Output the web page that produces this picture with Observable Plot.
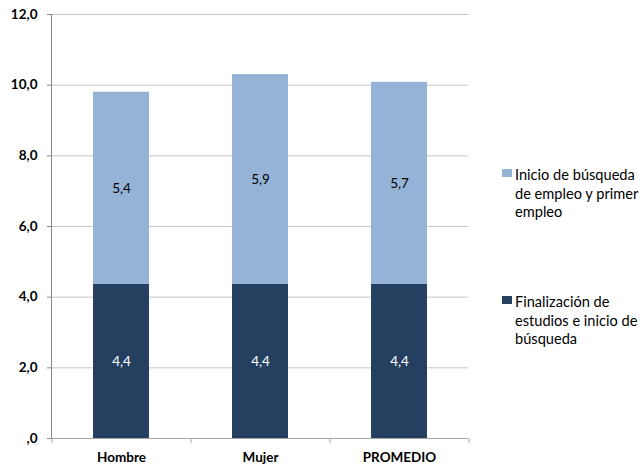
<!DOCTYPE html>
<html><head><meta charset="utf-8">
<script src="https://cdn.jsdelivr.net/npm/d3@7"></script>
<script src="https://cdn.jsdelivr.net/npm/@observablehq/plot@0.6"></script>
<style>
body{margin:0;background:#fff;font-family:Lato,sans-serif;}
#wrap{position:relative;width:643px;height:470px;}
.leg{position:absolute;left:502px;font-size:14.6px;line-height:18.5px;color:#000;}
.sw{position:absolute;left:0;top:3px;width:10px;height:8px;}
.lt{margin-left:13px;white-space:nowrap;}
</style></head><body><div id="wrap"></div>
<script>
const categories = ["Hombre", "Mujer", "PROMEDIO"];
const seriesNames = ["Finalización de estudios e inicio de búsqueda", "Inicio de búsqueda de empleo y primer empleo"];
const finalizacion = [4.36, 4.36, 4.36];
const inicio = [5.44, 5.94, 5.72];
const seriesColors = ["#243F60", "#95B3D7"];
const yTicks = [0, 2, 4, 6, 8, 10, 12];
const legendItems = [
  {lines: ["Inicio de búsqueda", "de empleo y primer", "empleo"], color: "#95B3D7", top: 166},
  {lines: ["Finalización de", "estudios e inicio de", "búsqueda"], color: "#243F60", top: 293}
];

const data = [];
categories.forEach((c, i) => {
  data.push({cat: c, serie: seriesNames[0], value: finalizacion[i]});
  data.push({cat: c, serie: seriesNames[1], value: inicio[i]});
});

const W = 643, H = 470, mL = 51, mR = 175, mT = 14, mB = 32;
const step = (W - mL - mR) / categories.length;
const pxPerUnit = (H - mT - mB) / 12;
const fmt = v => v === 0 ? ",0" : v.toFixed(1).replace(".", ",");

const chart = Plot.plot({
  width: W, height: H,
  marginLeft: mL, marginRight: mR, marginTop: mT, marginBottom: mB,
  style: {fontFamily: "Lato, sans-serif", fontSize: "13px", background: "#fff", color: "#000"},
  x: {domain: categories, paddingInner: 0.6, paddingOuter: 0.3, label: null},
  y: {domain: [0, 12], label: null},
  color: {domain: seriesNames, range: seriesColors},
  marks: [
    Plot.gridY(yTicks, {stroke: "#c6c6c6", strokeOpacity: 1}),
    Plot.frame({anchor: "left", stroke: "#868686"}),
    Plot.axisY({ticks: yTicks, tickSize: 4, tickPadding: 10, tickFormat: fmt, stroke: "#868686", fill: "#000", fontWeight: "bold", fontSize: 13.5, label: null}),
    Plot.axisX({tickSize: 0, tickPadding: 14, fill: "#000", fontWeight: "bold", fontSize: 13.5, label: null}),
    Plot.barY(data, Plot.stackY({x: "cat", y: "value", fill: "serie"})),
    Plot.text(data, Plot.stackY({x: "cat", y: "value", text: d => d.serie === seriesNames[0] ? fmt(d.value) : "", fill: "#fff", fontSize: 13.5})),
    Plot.text(data, Plot.stackY({x: "cat", y: "value", text: d => d.serie === seriesNames[1] ? fmt(d.value) : "", fill: "#000", fontSize: 13.5})),
    Plot.ruleY([0], {stroke: "#a6a6a6"}),
    Plot.ruleX(categories, {x: d => d, y1: 0, y2: -5 / pxPerUnit, dx: -step / 2, stroke: "#a6a6a6"}),
    Plot.ruleX(categories.slice(-1), {x: d => d, y1: 0, y2: -5 / pxPerUnit, dx: step / 2, stroke: "#a6a6a6"})
  ]
});

const wrap = document.getElementById("wrap");
wrap.appendChild(chart);
legendItems.forEach(item => {
  const d = document.createElement("div");
  d.className = "leg";
  d.style.top = item.top + "px";
  const sw = document.createElement("div");
  sw.className = "sw";
  sw.style.background = item.color;
  d.appendChild(sw);
  item.lines.forEach(l => {
    const t = document.createElement("div");
    t.className = "lt";
    t.textContent = l;
    d.appendChild(t);
  });
  wrap.appendChild(d);
});
</script></body></html>
